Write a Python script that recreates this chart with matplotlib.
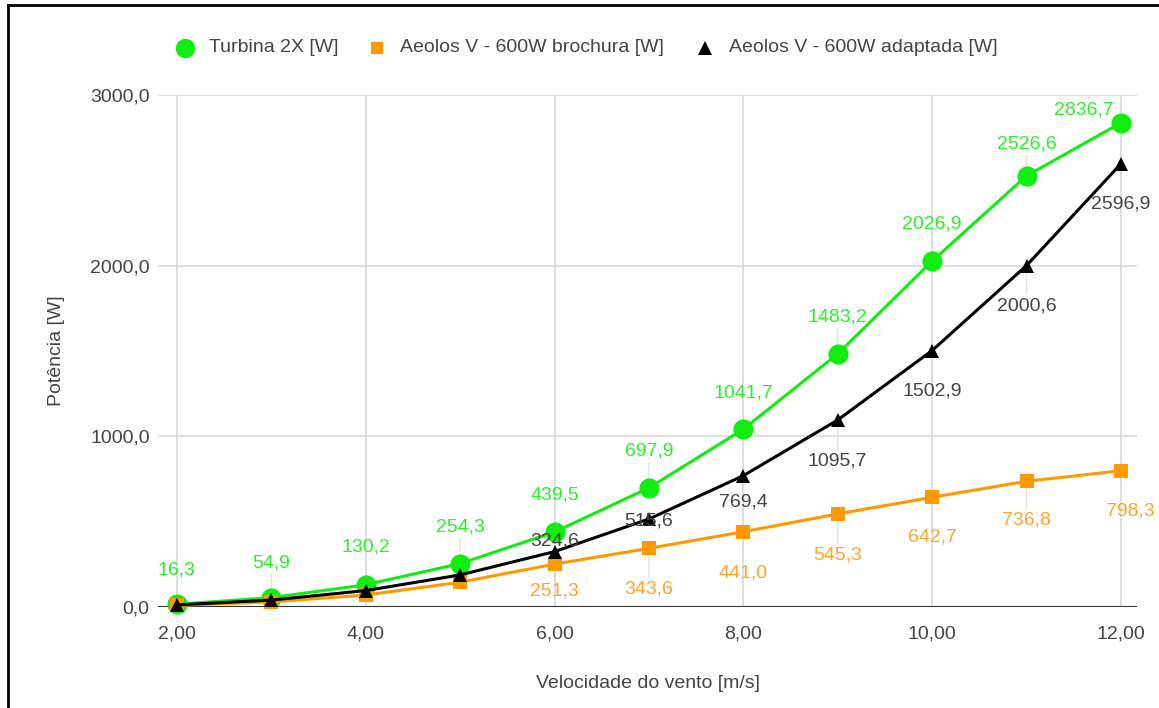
import matplotlib
matplotlib.use("Agg")
import matplotlib.pyplot as plt
from matplotlib.lines import Line2D
from matplotlib.ticker import FuncFormatter

plt.rcParams['font.family'] = ['Liberation Sans', 'DejaVu Sans']

# ── Dados ────────────────────────────────────────────────────────────────────
vento = [2, 3, 4, 5, 6, 7, 8, 9, 10, 11, 12]
turbina_2x = [16.3, 54.9, 130.2, 254.3, 439.5, 697.9, 1041.7, 1483.2, 2026.9, 2526.6, 2836.7]
aeolos_brochura = [9.0, 30.0, 70.0, 145.0, 251.3, 343.6, 441.0, 545.3, 642.7, 736.8, 798.3]
aeolos_adaptada = [12.0, 40.6, 96.2, 187.8, 324.6, 515.6, 769.4, 1095.7, 1502.9, 2000.6, 2596.9]
nomes = ["Turbina 2X [W]", "Aeolos V - 600W brochura [W]", "Aeolos V - 600W adaptada [W]"]
y_ticks = [0, 1000, 2000, 3000]
x_ticks = [2, 4, 6, 8, 10, 12]

# ── Cores ────────────────────────────────────────────────────────────────────
C_GREEN = "#10ee10"
C_ORANGE = "#ff9900"
C_BLACK = "#000000"
C_GREEN_T = "#2bf02b"
C_ORANGE_T = "#ffa629"
C_BLACK_T = "#444444"
C_GRID = "#d9d9d9"
C_TXT = "#444444"

# deslocamento dos rótulos (px, dx / dy para baixo)
off_green = [(0, -34), (0, -35), (0, -38), (0, -37), (0, -37), (0, -37),
             (0, -36), (0, -37), (0, -37), (0, -32), (-37, -13)]
off_orange = [None, None, None, None, (0, 27), (0, 41), (0, 41),
              (0, 41), (0, 40), (0, 39), (9, 40)]
off_black = [None, None, None, None, (0, -11), (0, 2), (0, 26),
             (0, 41), (0, 40), (0, 40), (0, 40)]

W, H = 1159, 708
fig = plt.figure(figsize=(W/100, H/100), dpi=100, facecolor="white")
ax = fig.add_axes([158/W, 1-607/H, (1137-158)/W, (607-95)/H])

ax.set_xlim(1.8, 12.17)
ax.set_ylim(0, 3000)
for s in ax.spines.values():
    s.set_visible(False)
ax.set_xticks(x_ticks)
ax.set_yticks(y_ticks)
ax.grid(True, color=C_GRID, lw=1.2, zorder=0)
ax.axhline(0, color="#333333", lw=1.5, zorder=2)
ax.tick_params(length=0, labelsize=14, labelcolor=C_TXT)
ax.tick_params(axis="x", pad=13)
ax.tick_params(axis="y", pad=6)
ax.xaxis.set_major_formatter(FuncFormatter(lambda v, p: f"{v:.2f}".replace(".", ",")))
ax.yaxis.set_major_formatter(FuncFormatter(lambda v, p: f"{v:.1f}".replace(".", ",")))
ax.set_xlabel("Velocidade do vento [m/s]", fontsize=14, color=C_TXT, labelpad=24)
ax.set_ylabel("Potência [W]", fontsize=14, color=C_TXT, labelpad=18)

series = [
    (turbina_2x, C_GREEN, "o", 14.5, C_GREEN_T, off_green),
    (aeolos_brochura, C_ORANGE, "s", 9.5, C_ORANGE_T, off_orange),
    (aeolos_adaptada, C_BLACK, "^", 10, C_BLACK_T, off_black),
]

for i, (vals, col, mk, ms, tcol, offs) in enumerate(series):
    ax.plot(vento, vals, color=col, lw=2.2, marker=mk, ms=ms,
            markeredgewidth=0, zorder=5 + i, clip_on=False)
    for x, v, off in zip(vento, vals, offs):
        if off is None:
            continue
        dx, dy = off
        # haste fina do ponto até o rótulo
        if abs(dy) > 20 and dx == 0:
            sgn = 1 if dy > 0 else -1
            ax.annotate("", xy=(x, v), xytext=(0, -(dy - sgn*9)),
                        textcoords="offset pixels",
                        arrowprops=dict(arrowstyle="-", color="#e3e3e3", lw=1),
                        zorder=1)
        ax.annotate(f"{v:.1f}".replace(".", ","), xy=(x, v), xytext=(dx, -dy),
                    textcoords="offset pixels", ha="center", va="center",
                    fontsize=14, color=tcol, zorder=10)

# ── Legenda manual ───────────────────────────────────────────────────────────
leg_y = 1 - 48/H
leg = [(185, 209, C_GREEN, "o", 14), (377, 400, C_ORANGE, "s", 9), (705, 729, C_BLACK, "^", 10)]
for (mx, tx, col, mk, ms), nome in zip(leg, nomes):
    fig.add_artist(Line2D([mx/W], [leg_y], transform=fig.transFigure, marker=mk,
                          ms=ms, color=col, markeredgewidth=0, lw=0))
    fig.text(tx/W, leg_y, nome, ha="left", va="center", fontsize=14, color=C_TXT)

# moldura (recorte)
fig.add_artist(Line2D([8/W, 8/W], [0, 1 - 5/H], transform=fig.transFigure, color="black", lw=2))
fig.add_artist(Line2D([8/W, 1], [1 - 5/H, 1 - 5/H], transform=fig.transFigure, color="black", lw=2))

fig.savefig("out.png", dpi=100)
